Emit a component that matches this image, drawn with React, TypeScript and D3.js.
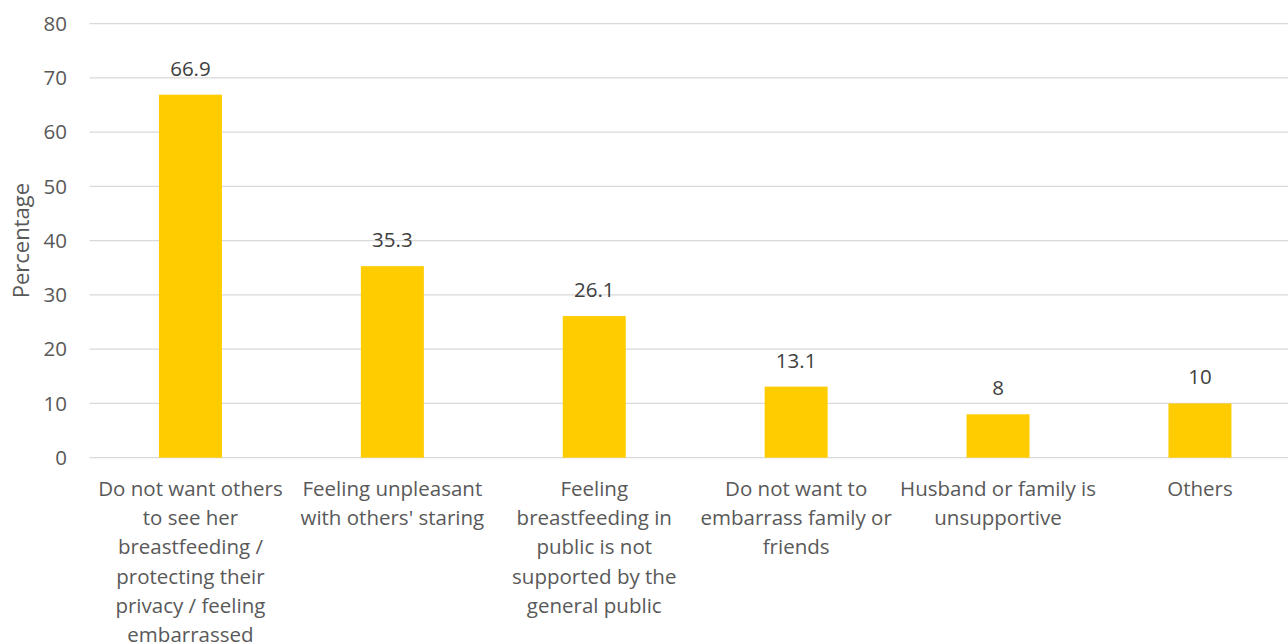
import React from "react";
import * as d3 from "d3";

const categoryLines: string[][] = [
  ["Do not want others", "to see her", "breastfeeding /", "protecting their", "privacy / feeling", "embarrassed"],
  ["Feeling unpleasant", "with others' staring"],
  ["Feeling", "breastfeeding in", "public is not", "supported by the", "general public"],
  ["Do not want to", "embarrass family or", "friends"],
  ["Husband or family is", "unsupportive"],
  ["Others"],
];
const values: number[] = [66.9, 35.3, 26.1, 13.1, 8, 10];
const valueLabels: string[] = ["66.9", "35.3", "26.1", "13.1", "8", "10"];
const yTicks: number[] = [0, 10, 20, 30, 40, 50, 60, 70, 80];
const yTitle = "Percentage";

const W = 1288;
const H = 643;
const FONT = "'Open Sans', sans-serif";
const TEXT = "#595959";
const FS = 20.5;

export default function App() {
  const left = 89.5;
  const step = 201.9;
  const x = d3
    .scaleBand<number>()
    .domain(d3.range(values.length))
    .range([left, left + step * values.length])
    .paddingInner(0.688)
    .paddingOuter(0.344);
  const y = d3.scaleLinear().domain([0, 80]).range([457.7, 23.6]);
  const gridRight = W;
  const lineH = 29.2;

  return (
    <svg
      width={W}
      height={H}
      style={{ position: "absolute", left: 0, top: 0, background: "#fff" }}
      fontFamily={FONT}
    >
      <rect width={W} height={H} fill="#fff" />
      {yTicks.map((t) => (
        <g key={t}>
          <line x1={left} x2={gridRight} y1={y(t)} y2={y(t)} stroke="#D9D9D9" strokeWidth={1.3} />
          <text x={67} y={y(t)} dy="0.35em" textAnchor="end" fontSize={FS} fill={TEXT}>
            {t}
          </text>
        </g>
      ))}
      <text
        transform={`translate(29,${y(40)}) rotate(-90)`}
        textAnchor="middle"
        fontSize={22}
        fill={TEXT}
      >
        {yTitle}
      </text>
      {values.map((v, i) => {
        const bx = x(i)!;
        const bw = x.bandwidth();
        const cx = bx + bw / 2;
        return (
          <g key={i}>
            <rect x={bx} y={y(v)} width={bw} height={y(0) - y(v)} fill="#FFCC00" />
            <text x={cx} y={y(v) - 19} textAnchor="middle" fontSize={FS} fill="#404040">
              {valueLabels[i]}
            </text>
            {categoryLines[i].map((ln, j) => (
              <text key={j} x={cx} y={496 + j * lineH} textAnchor="middle" fontSize={FS} fill={TEXT}>
                {ln}
              </text>
            ))}
          </g>
        );
      })}
    </svg>
  );
}
